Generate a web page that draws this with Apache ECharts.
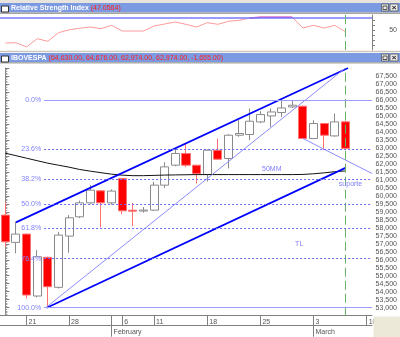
<!DOCTYPE html>
<html>
<head>
<meta charset="utf-8">
<script src="https://cdn.jsdelivr.net/npm/echarts@6/dist/echarts.min.js"></script>
<style>
html,body{margin:0;padding:0;background:#fff;}
#c{width:400px;height:337px;}
</style>
</head>
<body>
<div id="c"></div>
<script>
// ---------- data ----------
const dates = ['2008-01-17','2008-01-18','2008-01-21','2008-01-22','2008-01-23','2008-01-24','2008-01-28','2008-01-29','2008-01-30','2008-01-31','2008-02-01','2008-02-06','2008-02-07','2008-02-08','2008-02-11','2008-02-12','2008-02-13','2008-02-14','2008-02-15','2008-02-18','2008-02-19','2008-02-20','2008-02-21','2008-02-22','2008-02-25','2008-02-26','2008-02-27','2008-02-28','2008-02-29','2008-03-03','2008-03-04','2008-03-05','2008-03-06','2008-03-07','2008-03-10'];
const monthNames = ['January','February','March'];
const openP  = [58794,57088,57606,53731,56150,54275,57481,58688,59563,60313,59563,61088,59100,59050,59106,60669,61919,62650,61919,61338,62856,62338,63794,63838,64625,65000,65213,65563,65606,63588,64525,63750,64630];
const closeP = [57125,57606,53794,56188,54313,57544,58625,59563,60356,59563,60300,59063,59040,59110,60669,61813,62650,61919,61400,62856,62294,63794,63900,64669,65088,65250,65500,65669,63588,64525,63794,64629,62974];
const lowP   = [56813,56400,53588,53650,53000,54200,56438,58606,59500,58025,59450,58856,58106,58950,59050,60500,61850,61794,60775,60900,62250,61713,63700,63481,64550,64313,64938,65500,63550,63550,62856,63700,62974];
const highP  = [59625,58375,57650,56606,56200,57750,58794,59700,60669,60356,60400,61088,59563,59300,60875,62100,62963,63275,61919,62900,63588,63850,64731,65463,65300,65463,65981,66000,65650,64731,64550,65150,64676];
const ma50   = [62669,62513,62356,62200,62044,61919,61794,61650,61544,61450,61356,61294,61263,61263,61280,61300,61310,61320,61330,61330,61330,61330,61330,61330,61330,61330,61330,61330,61340,61380,61440,61510,61560];
const rsi    = [28.3,28.8,21.7,35.5,31.2,45.5,50.3,53,55,52.2,57.8,48.3,48.3,48.3,56.7,60,63.3,59.5,55,62.2,59.5,64.5,66.2,70,71.2,71.2,71.2,71.2,53.3,57.8,53.3,57.8,47.0564];
const upperChannel = [[1,58340],[32.25,68000]];
const lowerChannel = [[3.9,53000],[32,61750]];
const fanUp   = [[3.8,53000],[32.0,68000]];
const fanDown = [[28,63590],[34.5,61400]];
const fibRatios = [0,0.236,0.382,0.5,0.618,0.764,1];
const fibStartIdx = 3.65;
const notes = [{text:'50MM',at:[25.07,61669]},{text:'TL',at:[27.65,56969]},{text:'suporte',at:[32.48,60763]}];
const cursorIdx = 32;
const rsiUpper = 70;

// ---------- derived ----------
const FONT = 'Liberation Sans, Arial, sans-serif';
const n = openP.length;
const candles = openP.map((o,i)=>[o, closeP[i], lowP[i], highP[i]]);
const fibHigh = Math.max(...highP), fibLow = Math.min(...lowP);
const dOf = s => new Date(s+'T00:00:00Z');
const weekStart = dates.map((d,i)=> i>0 && (dOf(d).getUTCDay() < dOf(dates[i-1]).getUTCDay() || (dOf(d)-dOf(dates[i-1]))>=6*864e5));
const monthStart = dates.map((d,i)=> i>0 && d.slice(5,7)!==dates[i-1].slice(5,7));
const fmt = v => (v<0?'-':'') + Math.abs(v).toLocaleString('en-US',{minimumFractionDigits:2,maximumFractionDigits:2});
const lastO=openP[n-1], lastH=highP[n-1], lastL=lowP[n-1], lastC=closeP[n-1], chg=closeP[n-1]-closeP[n-2];
const mainTitleVals = '(' + [lastO,lastH,lastL,lastC,chg].map(fmt).join(', ') + ')';
const rsiTitleVal = '(' + rsi[rsi.length-1].toFixed(4) + ')';
// RSI portion at/above the upper band (drawn in magenta)
const rsiHot = rsi.map((v,i)=> (v>=rsiUpper || (rsi[i+1]!==undefined && rsi[i+1]>=rsiUpper && v>=rsiUpper-1)) ? v : '-');

const BAR = '#7c9ae2', FRAME='#a8a59c', PERI='#8080ff';

function titleBar(y, name, vals){
  return [
    {type:'rect', z:50, shape:{x:0,y:y,width:400,height:9.5}, style:{fill:BAR}},
    {type:'rect', z:51, shape:{x:1.5,y:y+3,width:7,height:6}, style:{fill:'#fff',stroke:'#333',lineWidth:1}},
    {type:'text', z:52, x:11, y:y+5, style:{text:'{w|'+name+'} {r|'+vals+'}', verticalAlign:'middle', font:'7px '+FONT,
      rich:{w:{fill:'#fff',color:'#fff',fontWeight:'bold',fontSize:7,fontFamily:FONT},
            r:{fill:'#ff2020',color:'#ff2020',fontSize:7,fontFamily:FONT}}}},
    {type:'rect', z:51, shape:{x:381.5,y:y+1,width:7,height:7}, style:{fill:'#e8e8e8',stroke:'#555',lineWidth:0.8}},
    {type:'rect', z:52, shape:{x:383,y:y+3,width:4,height:3.5}, style:{fill:'none',stroke:'#333',lineWidth:0.8}},
    {type:'rect', z:51, shape:{x:390,y:y+1,width:8,height:7}, style:{fill:'#e8e8e8',stroke:'#555',lineWidth:0.8}},
    {type:'text', z:52, x:394, y:y+4.8, style:{text:'×', fill:'#222', font:'bold 8px '+FONT, align:'center', verticalAlign:'middle'}}
  ];
}

const graphic = [
  {type:'rect', z:49, shape:{x:0,y:0,width:400,height:3}, style:{fill:'#e6e4dc'}},
  ...titleBar(3,'Relative Strength Index',rsiTitleVal),
  {type:'rect', z:50, shape:{x:0,y:12.5,width:400,height:1.5}, style:{fill:FRAME}},
  {type:'rect', z:50, shape:{x:0,y:50.8,width:400,height:1.5}, style:{fill:'#c9c6bd'}},
  ...titleBar(53,'IBOVESPA',mainTitleVals),
  {type:'rect', z:50, shape:{x:0,y:62.2,width:400,height:1.3}, style:{fill:FRAME}},
  {type:'rect', z:60, shape:{x:373.5,y:316.5,width:27,height:21}, style:{fill:'#ece9d8'}}
];

const axisGray = '#808080';
const option = {
  animation:false,
  textStyle:{fontFamily:FONT},
  graphic: graphic,
  grid:[
    {left:0,right:27,top:68,height:247.7},
    {left:0,right:27,top:15,height:35}
  ],
  xAxis:[
    {type:'category', gridIndex:0, data:dates, boundaryGap:true, position:'bottom',
      axisLine:{lineStyle:{color:axisGray,width:1}},
      axisTick:{show:true, alignWithLabel:true, length:10, interval:(i)=>weekStart[i]||monthStart[i], lineStyle:{color:axisGray}},
      axisLabel:{interval:(i)=>weekStart[i], formatter:v=>String(+v.slice(8)), align:'left', padding:[0,0,0,2], margin:3, fontSize:7, color:'#555', fontFamily:FONT},
      splitLine:{show:false}},
    {type:'value', gridIndex:0, min:-0.5, max:dates.length-0.5, show:false},
    {type:'category', gridIndex:0, data:dates, boundaryGap:true, position:'bottom', offset:10,
      axisLine:{lineStyle:{color:axisGray,width:1}},
      axisTick:{show:true, alignWithLabel:true, length:11, interval:(i)=>monthStart[i], lineStyle:{color:axisGray}},
      axisLabel:{interval:(i)=>monthStart[i], formatter:v=>monthNames[+v.slice(5,7)-1], align:'left', padding:[0,0,0,2], margin:3, fontSize:7, color:'#555', fontFamily:FONT}},
    {type:'category', gridIndex:1, data:dates, boundaryGap:true, show:false}
  ],
  yAxis:[
    {type:'value', gridIndex:0, position:'right', min:52500, max:68000, interval:500, scale:true,
      axisLine:{show:true,lineStyle:{color:axisGray}},
      axisTick:{show:true,length:4,lineStyle:{color:axisGray}},
      minorTick:{show:true,splitNumber:5,length:2,lineStyle:{color:'#999'}},
      axisLabel:{show:true, showMinLabel:false, showMaxLabel:false, align:'right', margin:25, fontSize:7, color:'#555', fontFamily:FONT},
      splitLine:{show:false}},
    {type:'value', gridIndex:1, position:'right', min:50/3, max:75, interval:25/3,
      axisLine:{show:true,lineStyle:{color:axisGray}},
      axisTick:{show:true,length:3,lineStyle:{color:axisGray}},
      axisLabel:{show:true, showMinLabel:false, showMaxLabel:false, formatter:v=>Math.round(v)===50?'50':'', align:'right', margin:25, fontSize:7, color:'#555', fontFamily:FONT},
      splitLine:{show:false}}
  ],
  series:[
    {type:'candlestick', xAxisIndex:0, yAxisIndex:0, data:candles, barWidth:'80%', z:2,
      itemStyle:{color:'#ffffff', color0:'#ff0000', borderColor:'#8a8a8a', borderColor0:'#ff7070', borderWidth:1},
      markLine:{silent:true, symbol:['none','none'], animation:false,
        data:[
          {xAxis:dates[cursorIdx], lineStyle:{color:'#66b366',type:[9,4],width:1}, label:{show:false}},
          {yAxis:lastC, lineStyle:{opacity:0}, label:{show:true, position:'end', distance:1, formatter:()=>lastC.toFixed(2),
            color:'#fff', backgroundColor:'#000', padding:[1,1,0,1], fontSize:7, fontFamily:FONT}}
        ]}},
    {type:'line', name:'MA50', xAxisIndex:0, yAxisIndex:0, data:ma50, symbol:'none', z:3,
      lineStyle:{color:'#111',width:1}},
    {type:'line', xAxisIndex:1, yAxisIndex:0, data:[[fibStartIdx,fibLow]], symbol:'none', z:3, lineStyle:{opacity:0},
      markLine:{silent:true, symbol:['none','none'], animation:false,
        data: fibRatios.map(r=>{
          const lvl = fibHigh - r*(fibHigh-fibLow);
          const solid = (r===0||r===1);
          return [{coord:[fibStartIdx,lvl],
                   lineStyle:{color: solid?'#9c9cff':'#6a6aff', width:1, type: solid?'solid':[2,2]},
                   label:{show:true, position:'start', distance:3, formatter:(r*100).toFixed(1)+'%', color:PERI, fontSize:7, fontFamily:FONT}},
                  {coord:[dates.length-0.5,lvl]}];
        })}},
    {type:'line', xAxisIndex:1, yAxisIndex:0, data:upperChannel, symbol:'none', z:4, lineStyle:{color:'#0000ff',width:1.7}},
    {type:'line', xAxisIndex:1, yAxisIndex:0, data:lowerChannel, symbol:'none', z:4, lineStyle:{color:'#0000ff',width:1.7}},
    {type:'line', xAxisIndex:1, yAxisIndex:0, data:fanUp, symbol:'none', z:4, lineStyle:{color:'#8c8cff',width:1}},
    {type:'line', xAxisIndex:1, yAxisIndex:0, data:fanDown, symbol:'none', z:4, lineStyle:{color:'#8c8cff',width:1},
      markPoint:{silent:true, symbol:'circle', symbolSize:1, itemStyle:{color:'rgba(0,0,0,0)'}, animation:false,
        label:{show:true, position:'inside', color:PERI, fontSize:7, fontFamily:FONT, formatter:p=>p.name},
        data: notes.map(o=>({name:o.text, coord:o.at}))}},
    {type:'line', xAxisIndex:3, yAxisIndex:1, data:rsi, symbol:'none', z:3, lineStyle:{width:1,color:'#ff9a9a'},
      markLine:{silent:true, symbol:['none','none'], animation:false,
        data:[
          {yAxis:rsiUpper, lineStyle:{color:'#7a7aff',width:1.5,type:'solid'}, label:{show:false}},
          {xAxis:dates[cursorIdx], lineStyle:{color:'#66b366',type:[9,4],width:1}, label:{show:false}}
        ]}},
    {type:'line', xAxisIndex:3, yAxisIndex:1, data:rsiHot, symbol:'none', z:4, connectNulls:false, lineStyle:{width:1.5,color:'#cc44cc'}}
  ]
};
const chart = echarts.init(document.getElementById('c'), null, {renderer:'canvas'});
chart.setOption(option);
</script>
</body>
</html>
